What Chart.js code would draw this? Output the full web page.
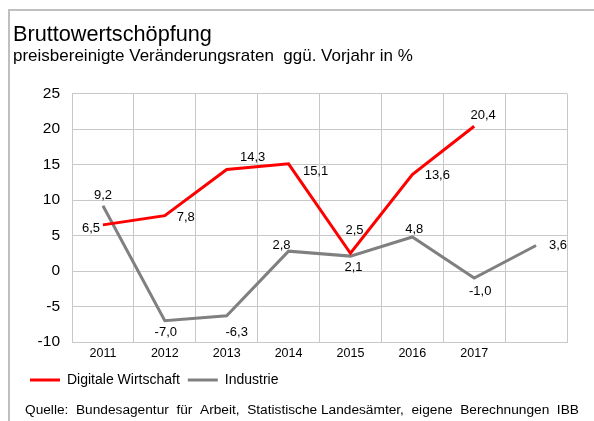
<!DOCTYPE html>
<html>
<head>
<meta charset="utf-8">
<script src="https://cdn.jsdelivr.net/npm/chart.js@4"></script>
<style>
	html, body { margin: 0; padding: 0; background: #fff; }
	#wrap { position: relative; width: 594px; height: 421px; overflow: hidden; }
	#frame { position: absolute; left: 8px; top: 9px; width: 600px; height: 430px;
		border-left: 2px solid #bfbfbf; border-top: 2px solid #bfbfbf; }
	canvas { position: absolute; left: 0; top: 0; }
</style>
</head>
<body>
<div id="wrap">
	<div id="frame"></div>
	<canvas id="chart" width="594" height="421"></canvas>
</div>
<script>
const years = ['2011', '2012', '2013', '2014', '2015', '2016', '2017', ''];
const digitaleWirtschaft = [6.5, 7.8, 14.3, 15.1, 2.5, 13.6, 20.4, null];
const industrie = [9.2, -7.0, -6.3, 2.8, 2.1, 4.8, -1.0, 3.6];
const yTicks = [-10, -5, 0, 5, 10, 15, 20, 25];

// label offsets from each point, px (dx, dy)
const digitaleLabelPos = [[-12, 4], [21, 2], [26, -12], [27, 8], [4, -23], [25, 1], [9, -11], null];
const industrieLabelPos = [[0, -10], [1, 12], [10, 17], [-7, -6], [3, 11], [2, -8], [6, 13], [22, 0]];

const FONT = '"Liberation Sans", Arial, sans-serif';
const fmt = v => v.toFixed(1).replace('.', ',');

const pointLabels = {
	id: 'pointLabels',
	afterDatasetsDraw(chart) {
		const ctx = chart.ctx;
		const posList = [digitaleLabelPos, industrieLabelPos];
		ctx.save();
		ctx.font = '13px ' + FONT;
		ctx.fillStyle = '#000';
		ctx.textBaseline = 'middle';
		ctx.textAlign = 'center';
		chart.data.datasets.forEach((ds, i) => {
			chart.getDatasetMeta(i).data.forEach((pt, j) => {
				const v = ds.data[j];
				const p = posList[i][j];
				if (v === null || !p) return;
				ctx.fillText(fmt(v), pt.x + p[0], pt.y + p[1]);
			});
		});
		ctx.restore();
	}
};

const sourceLine = {
	id: 'sourceLine',
	afterDraw(chart) {
		const ctx = chart.ctx;
		ctx.save();
		ctx.font = '13.7px ' + FONT;
		ctx.fillStyle = '#000';
		ctx.textBaseline = 'middle';
		ctx.textAlign = 'left';
		ctx.fillText('Quelle:  Bundesagentur  für  Arbeit,  Statistische Landesämter,  eigene  Berechnungen  IBB', 25, 410);
		ctx.restore();
	}
};

// nudge the legend a bit to the right, title stays where it is
const legendShift = {
	id: 'legendShift',
	afterLayout(chart) {
		chart.legend.left += 9;
	}
};

new Chart(document.getElementById('chart'), {
	type: 'line',
	data: {
		labels: years,
		datasets: [{
			label: 'Digitale Wirtschaft',
			data: digitaleWirtschaft,
			borderColor: '#ff0000',
			backgroundColor: '#ff0000',
			borderWidth: 3,
			pointRadius: 0,
			tension: 0
		}, {
			label: 'Industrie',
			data: industrie,
			borderColor: '#808080',
			backgroundColor: '#808080',
			borderWidth: 3,
			pointRadius: 0,
			tension: 0
		}]
	},
	options: {
		responsive: false,
		animation: false,
		devicePixelRatio: 1,
		layout: {
			padding: { left: 13, right: 27, top: 23, bottom: 24 }
		},
		plugins: {
			title: {
				display: true,
				text: 'Bruttowertschöpfung',
				align: 'start',
				color: '#000',
				font: { family: FONT, size: 21.7, weight: 'normal', lineHeight: 1.1 },
				padding: { top: 0, bottom: 0 }
			},
			subtitle: {
				display: true,
				text: 'preisbereinigte Veränderungsraten  ggü. Vorjahr in %',
				align: 'start',
				color: '#000',
				font: { family: FONT, size: 17, lineHeight: 1.1 },
				padding: { top: 0, bottom: 28 }
			},
			legend: {
				position: 'bottom',
				align: 'start',
				labels: {
					usePointStyle: true,
					pointStyle: 'line',
					pointStyleWidth: 30,
					color: '#000',
					padding: 8,
					font: { family: FONT, size: 14, lineHeight: 1.0 }
				}
			},
			tooltip: { enabled: false }
		},
		scales: {
			x: {
				offset: true,
				grid: {
					offset: true,
					color: '#c8c8c8',
					drawTicks: false
				},
				border: { color: '#c8c8c8' },
				ticks: {
					color: '#000',
					padding: 4,
					maxRotation: 0,
					font: { family: FONT, size: 12.5 }
				}
			},
			y: {
				min: -10,
				max: 25,
				afterBuildTicks: axis => { axis.ticks = yTicks.map(v => ({ value: v })); },
				afterFit: axis => { axis.width = 59; },
				grid: {
					color: '#c8c8c8',
					drawTicks: false
				},
				border: { color: '#c8c8c8' },
				ticks: {
					color: '#000',
					padding: 12,
					font: { family: FONT, size: 15.5 }
				}
			}
		}
	},
	plugins: [pointLabels, sourceLine, legendShift]
});
</script>
</body>
</html>
